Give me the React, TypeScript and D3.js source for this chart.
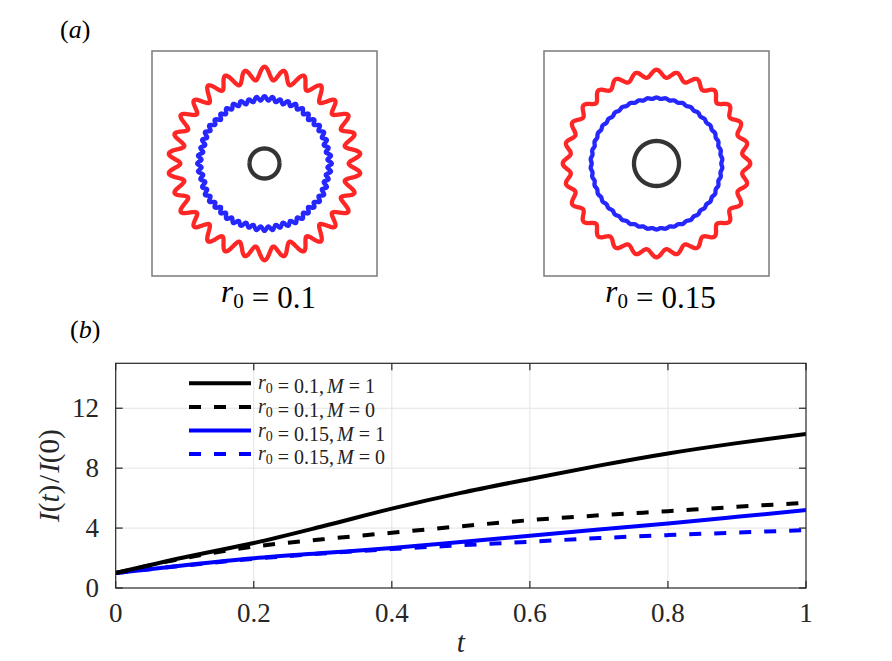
import { useEffect, useRef } from "react";
import * as d3 from "d3";

// time samples and I(t)/I(0) curves
const tValues = [0, 0.1, 0.2, 0.3, 0.4, 0.5, 0.6, 0.7, 0.8, 0.9, 1];
const r01M1 = [1, 2.05, 3.0, 4.12, 5.3, 6.35, 7.28, 8.17, 8.98, 9.67, 10.28];
const r01M0 = [1, 2.0, 2.76, 3.25, 3.69, 4.12, 4.53, 4.85, 5.13, 5.42, 5.69];
const r015M1 = [1, 1.52, 1.98, 2.33, 2.67, 3.07, 3.49, 3.9, 4.31, 4.75, 5.2];
const r015M0 = [1, 1.5, 1.95, 2.3, 2.6, 2.85, 3.09, 3.33, 3.53, 3.7, 3.87];

const legendR0 = ["0.1", "0.1", "0.15", "0.15"];
const legendM = ["1", "0", "1", "0"];
const seriesColors = ["#000000", "#000000", "#0000ff", "#0000ff"];
const seriesDashed = [false, true, false, true];

const xTicks = [0, 0.2, 0.4, 0.6, 0.8, 1];
const yTicks = [0, 4, 8, 12];

// interface snapshots (panel a): r0, blue front and red front
const panelR0 = [0.1, 0.15];
const blueRadius = [0.425, 0.432];
const blueAmp = [0.014, 0.004];
const blueWaves = [52, 46];
const redRadius = [0.583, 0.593];
const redAmp = [0.042, 0.024];
const redWaves = [30, 28];
const lobeAmp = [0.02, 0.008]; // slow 12-fold polygonal modulation

const W = 892;
const H = 661;

const App: React.FC = () => {
  const svgRef = useRef<SVGSVGElement>(null);

  useEffect(() => {
    const root = d3.select(svgRef.current);
    root.selectAll("*").remove();
    const font = "'Liberation Serif', 'Times New Roman', serif";
    const eq = (gap: number, v: string) =>
      `<tspan dx="${gap}">=</tspan><tspan dx="${gap}">${v}</tspan>`;

    // ---------- panel (a) ----------
    root.append("text").attr("x", 60).attr("y", 38)
      .attr("font-family", font).attr("font-size", 26)
      .html('(<tspan font-style="italic">a</tspan>)');

    const boxes = [
      { x0: 152, y0: 51 },
      { x0: 544, y0: 51 },
    ];
    const boxSize = 225;

    boxes.forEach((b, p) => {
      const s = d3.scaleLinear().domain([-0.75, 0.75]).range([0, boxSize]);
      const g = root.append("g").attr("transform", `translate(${b.x0},${b.y0})`);
      g.append("rect").attr("width", boxSize).attr("height", boxSize)
        .attr("fill", "white").attr("stroke", "#7a7a7a").attr("stroke-width", 1.5);

      const line = d3.lineRadial<number>()
        .angle((d) => d)
        .curve(d3.curveCardinalClosed);
      const ang = d3.range(0, 2 * Math.PI, Math.PI / 360);
      const cg = g.append("g").attr("transform", `translate(${s(0)},${s(0)})`);
      const k = s(1) - s(0);

      const ring = (R: number, a: number, n: number, lobe: number, color: string) => {
        cg.append("path")
          .attr("d", line.radius((t) => k * (R + a * Math.cos(n * t) + lobe * Math.abs(Math.cos(6 * t))))(ang))
          .attr("fill", "none").attr("stroke", color).attr("stroke-width", 4.3)
          .attr("stroke-opacity", 0.85);
      };
      ring(redRadius[p], redAmp[p], redWaves[p], lobeAmp[p], "#ff0000");
      ring(blueRadius[p], blueAmp[p], blueWaves[p], lobeAmp[p] * 0.5, "#0000ff");
      ring(panelR0[p], 0, 1, 0, "#111111");

      root.append("text").attr("x", b.x0 + boxSize / 2 + 4).attr("y", 302)
        .attr("text-anchor", "middle").attr("font-family", font).attr("font-size", 31)
        .html(`<tspan font-style="italic">r</tspan><tspan dy="6" font-size="21">0</tspan><tspan dy="-6"></tspan>${eq(8, String(panelR0[p]))}`);
    });

    // ---------- panel (b) ----------
    root.append("text").attr("x", 70).attr("y", 338)
      .attr("font-family", font).attr("font-size", 26)
      .html('(<tspan font-style="italic">b</tspan>)');

    const m = { left: 115.7, right: 806, top: 363.3, bottom: 588 };
    const x = d3.scaleLinear().domain([0, 1]).range([m.left, m.right]);
    const y = d3.scaleLinear().domain([0, 15]).range([m.bottom, m.top]);

    const grid = root.append("g").attr("stroke", "#e3e3e3").attr("stroke-width", 1);
    xTicks.slice(1, -1).forEach((t) => {
      grid.append("line").attr("x1", x(t)).attr("x2", x(t)).attr("y1", m.top).attr("y2", m.bottom);
    });
    yTicks.slice(1).forEach((t) => {
      grid.append("line").attr("x1", m.left).attr("x2", m.right).attr("y1", y(t)).attr("y2", y(t));
    });

    // curves
    const series = [r01M1, r01M0, r015M1, r015M0];
    const lineGen = d3.line<number>()
      .x((_, i) => x(tValues[i]))
      .y((d) => y(d))
      .curve(d3.curveMonotoneX);
    const clip = root.append("clipPath").attr("id", "plotclip");
    clip.append("rect").attr("x", m.left).attr("y", m.top)
      .attr("width", m.right - m.left).attr("height", m.bottom - m.top);
    const plot = root.append("g").attr("clip-path", "url(#plotclip)");
    [3, 2, 1, 0].forEach((i) => {
      plot.append("path").attr("d", lineGen(series[i]))
        .attr("fill", "none").attr("stroke", seriesColors[i]).attr("stroke-width", 4)
        .attr("stroke-dasharray", seriesDashed[i] ? "12,13" : null);
    });

    // axes box and ticks
    const ax = root.append("g").attr("stroke", "#262626").attr("stroke-width", 1.2);
    ax.append("rect").attr("x", m.left).attr("y", m.top)
      .attr("width", m.right - m.left).attr("height", m.bottom - m.top).attr("fill", "none");
    xTicks.forEach((t) => {
      ax.append("line").attr("x1", x(t)).attr("x2", x(t)).attr("y1", m.bottom).attr("y2", m.bottom - 7);
      ax.append("line").attr("x1", x(t)).attr("x2", x(t)).attr("y1", m.top).attr("y2", m.top + 7);
    });
    yTicks.forEach((t) => {
      ax.append("line").attr("x1", m.left).attr("x2", m.left + 7).attr("y1", y(t)).attr("y2", y(t));
      ax.append("line").attr("x1", m.right).attr("x2", m.right - 7).attr("y1", y(t)).attr("y2", y(t));
    });

    const lab = root.append("g").attr("font-family", font).attr("font-size", 27).attr("fill", "#262626");
    xTicks.forEach((t) => {
      lab.append("text").attr("x", x(t)).attr("y", 622).attr("text-anchor", "middle").text(String(t));
    });
    yTicks.forEach((t) => {
      lab.append("text").attr("x", 99).attr("y", y(t) + 9).attr("text-anchor", "end").text(String(t));
    });

    root.append("text").attr("x", (m.left + m.right) / 2).attr("y", 652)
      .attr("text-anchor", "middle").attr("font-family", font).attr("font-size", 29)
      .attr("font-style", "italic").attr("fill", "#262626").text("t");

    root.append("text")
      .attr("transform", `translate(59,${(m.top + m.bottom) / 2}) rotate(-90)`)
      .attr("text-anchor", "middle").attr("font-family", font).attr("font-size", 29).attr("fill", "#262626")
      .html('<tspan font-style="italic">I</tspan>(<tspan font-style="italic">t</tspan>)<tspan dx="2">/</tspan><tspan font-style="italic" dx="2">I</tspan>(0)');

    // legend
    const leg = root.append("g");
    legendR0.forEach((r, i) => {
      const ly = 383.3 + i * 23.6;
      leg.append("line").attr("x1", 189).attr("x2", 251).attr("y1", ly).attr("y2", ly)
        .attr("stroke", seriesColors[i]).attr("stroke-width", 4)
        .attr("stroke-dasharray", seriesDashed[i] ? "12,13" : null);
      leg.append("text").attr("x", 258).attr("y", ly + 6)
        .attr("font-family", font).attr("font-size", 20).attr("fill", "#222")
        .html(`<tspan font-style="italic">r</tspan><tspan dy="4" font-size="14">0</tspan><tspan dy="-4"></tspan>${eq(5, r + ",")}<tspan font-style="italic" dx="3">M</tspan>${eq(5, legendM[i])}`);
    });
  }, []);

  return (
    <svg
      ref={svgRef}
      width={W}
      height={H}
      style={{ position: "absolute", left: 0, top: 0, background: "white" }}
    ></svg>
  );
};

export default App;
